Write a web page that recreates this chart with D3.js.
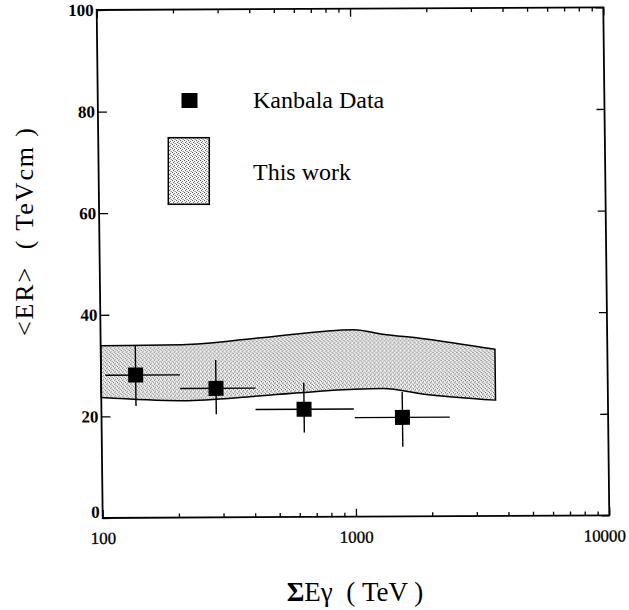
<!DOCTYPE html>
<html>
<head>
<meta charset="utf-8">
<script src="https://cdn.jsdelivr.net/npm/d3@7"></script>
<style>
  html, body { margin: 0; padding: 0; background: #fff; }
  svg { display: block; font-family: "Liberation Serif", "Times New Roman", serif; }
  svg text { font-family: "Liberation Serif", "Times New Roman", serif; }
</style>
</head>
<body>
<svg id="chart" width="629" height="610"></svg>
<script>
// Kanbala measurements: mean <ER> per energy bin
const dataE     = [137, 284, 631, 1542];
const dataER    = [28.1, 25.4, 21.2, 19.5];
const binLow    = [104, 205, 406, 1000];
const binHigh   = [205, 407, 992, 2370];
const errLow    = [22.0, 20.3, 16.6, 13.7];
const errHigh   = [33.8, 31.0, 26.4, 24.5];

// Simulated band ("This work")
const bandE     = [100, 210, 430, 1000, 1300, 1850, 3600];
const bandLower = [23.7, 23.0, 23.9, 25.1, 25.2, 24.1, 22.8];
const bandUpper = [33.9, 34.0, 35.3, 36.8, 35.9, 35.0, 32.8];

// Axis ticks
const xMajor = [100, 1000, 10000];
const xMinor = [200, 300, 400, 500, 600, 700, 800, 900,
                2000, 3000, 4000, 5000, 6000, 7000, 8000, 9000];
const yTicks = [0, 20, 40, 60, 80, 100];

const W = 507, H = 508;
const svg = d3.select("#chart");

// stippled grey fill
const defs = svg.append("defs");
const pat = defs.append("pattern").attr("id", "stipple")
  .attr("patternUnits", "userSpaceOnUse").attr("width", 4).attr("height", 4);
pat.append("rect").attr("width", 4).attr("height", 4).attr("fill", "#f4f4f4");
[[0,0,"#555"],[2,1,"#777"],[1,2,"#666"],[3,3,"#999"],[2,3,"#c4c4c4"]].forEach(([px,py,c]) =>
  pat.append("rect").attr("x", px).attr("y", py).attr("width", 1).attr("height", 1).attr("fill", c));

// the printed frame sits slightly skewed on the page
const g = svg.append("g").attr("transform", "matrix(0.9992,-0.0052,0.0118,1,96.7,10)");

const x = d3.scaleLog().domain([100, 10000]).range([0, W]);
const y = d3.scaleLinear().domain([0, 100]).range([H, 0]);

// band
const area = d3.area()
  .x((d, i) => x(bandE[i]))
  .y0((d, i) => y(bandLower[i]))
  .y1((d, i) => y(bandUpper[i]))
  .curve(d3.curveMonotoneX);
g.append("path").datum(bandE).attr("d", area)
  .attr("fill", "url(#stipple)").attr("stroke", "#000").attr("stroke-width", 1.5);

// axes: ticks point inward on all four sides
function styleAxis(sel) {
  sel.attr("font-family", null);
  sel.select(".domain").remove();
  sel.selectAll(".tick line").attr("stroke", "#000").attr("stroke-width", 1.3);
  sel.selectAll("text").attr("fill", "#000");
}
g.append("g").attr("transform", `translate(0,${H})`)
  .call(d3.axisBottom(x).tickValues(xMajor).tickSize(-8).tickPadding(14)
        .tickFormat(d3.format("d")))
  .call(styleAxis)
  .call(s => s.selectAll("text").attr("font-size", 17).attr("stroke", "#000").attr("stroke-width", 0.3)
              .attr("text-anchor", d => d === 10000 ? "end" : "middle")
              .attr("dx", d => d === 10000 ? 16 : 0));
g.append("g").attr("transform", `translate(0,${H})`)
  .call(d3.axisBottom(x).tickValues(xMinor).tickSize(-4).tickFormat(""))
  .call(styleAxis);
g.append("g")
  .call(d3.axisTop(x).tickValues(xMajor).tickSize(-8).tickFormat(""))
  .call(styleAxis);
g.append("g")
  .call(d3.axisTop(x).tickValues(xMinor).tickSize(-4).tickFormat(""))
  .call(styleAxis);
g.append("g")
  .call(d3.axisLeft(y).tickValues(yTicks).tickSize(-9).tickPadding(3))
  .call(styleAxis)
  .call(s => s.selectAll("text").attr("font-size", 17).attr("font-weight", "bold")
              .attr("dy", d => d === 0 ? "-0.05em" : "0.32em"));
g.append("g").attr("transform", `translate(${W},0)`)
  .call(d3.axisRight(y).tickValues(yTicks).tickSize(-8).tickFormat(""))
  .call(styleAxis);

// frame
g.append("rect").attr("x", 0).attr("y", 0).attr("width", W).attr("height", H)
  .attr("fill", "none").attr("stroke", "#000").attr("stroke-width", 1.8);

// error bars and markers
const pts = dataE.map((e, i) => ({e, v: dataER[i], lo: binLow[i], hi: binHigh[i], el: errLow[i], eh: errHigh[i]}));
const pg = g.append("g").attr("stroke", "#000").attr("stroke-width", 1.4);
pg.selectAll(".h").data(pts).join("line")
  .attr("x1", d => x(d.lo)).attr("x2", d => x(d.hi))
  .attr("y1", d => y(d.v)).attr("y2", d => y(d.v));
pg.selectAll(".v").data(pts).join("line")
  .attr("x1", d => x(d.e)).attr("x2", d => x(d.e))
  .attr("y1", d => y(d.el)).attr("y2", d => y(d.eh));
g.selectAll(".sq").data(pts).join("rect")
  .attr("x", d => x(d.e) - 7.5).attr("y", d => y(d.v) - 7.5)
  .attr("width", 15).attr("height", 15).attr("fill", "#000");

// legend
svg.append("rect").attr("x", 181.5).attr("y", 93).attr("width", 16).attr("height", 15).attr("fill", "#000");
svg.append("text").attr("x", 253).attr("y", 107.5).attr("font-size", 24).text("Kanbala Data");
svg.append("rect").attr("x", 168.3).attr("y", 137.7).attr("width", 41).attr("height", 66.6)
  .attr("fill", "url(#stipple)").attr("stroke", "#000").attr("stroke-width", 1.5);
svg.append("text").attr("x", 253).attr("y", 180).attr("font-size", 24).text("This work");

// axis titles
svg.append("text")
  .attr("transform", "translate(33,232) rotate(-90)")
  .attr("text-anchor", "middle").attr("font-size", 26)
  .attr("textLength", 208).attr("lengthAdjust", "spacing")
  .style("white-space", "pre")
  .text("<ER>  ( TeVcm )");

const xt = svg.append("text").attr("x", 355).attr("y", 601)
  .attr("text-anchor", "middle").attr("font-size", 27).style("white-space", "pre");
xt.append("tspan").attr("font-weight", "bold").text("Σ");
xt.append("tspan").text("E");
xt.append("tspan").text("γ");
xt.append("tspan").text("  ( TeV )");
</script>
</body>
</html>
